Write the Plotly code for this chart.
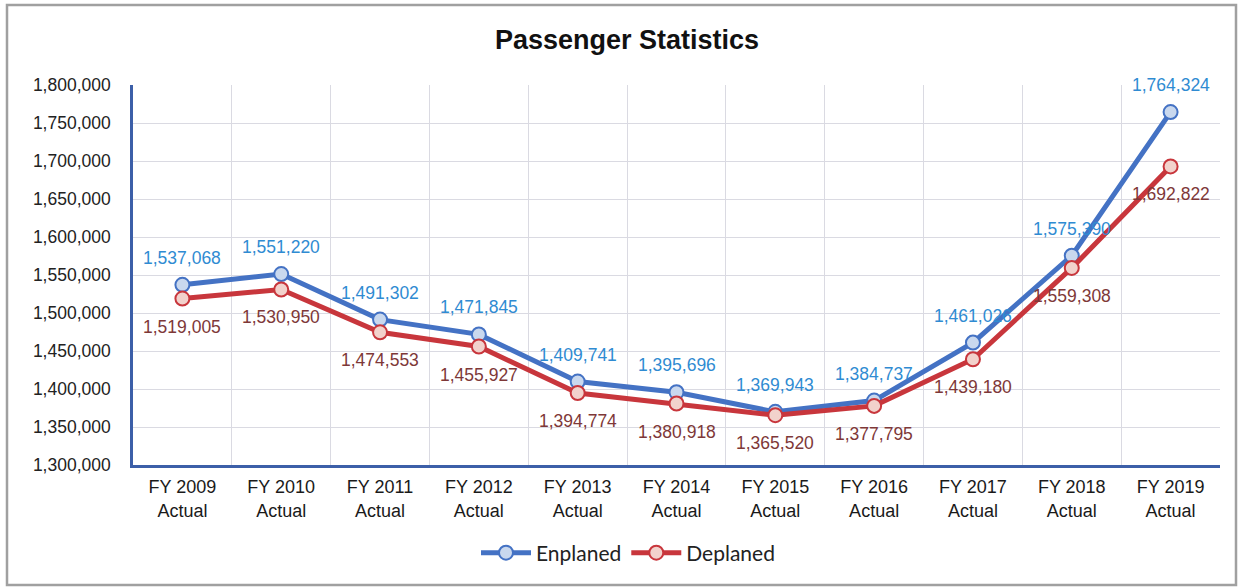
import plotly.graph_objects as go

# Fiscal years and passenger counts
years = ["FY 2009", "FY 2010", "FY 2011", "FY 2012", "FY 2013", "FY 2014",
         "FY 2015", "FY 2016", "FY 2017", "FY 2018", "FY 2019"]
status = "Actual"
enplaned = [1537068, 1551220, 1491302, 1471845, 1409741, 1395696,
            1369943, 1384737, 1461026, 1575390, 1764324]
deplaned = [1519005, 1530950, 1474553, 1455927, 1394774, 1380918,
            1365520, 1377795, 1439180, 1559308, 1692822]
y_ticks = list(range(1300000, 1800001, 50000))

categories = [f"{y}<br>{status}" for y in years]

W, H = 1244, 587
L, R, T, B = 133, 24, 85, 122
plot_w = W - L - R
plot_h = H - T - B

BLUE = "#4472C4"
RED = "#C8363C"
BLUE_TXT = "#2F8BD2"
RED_TXT = "#7E3838"
FONT = "Liberation Sans"

fig = go.Figure()
fig.add_trace(go.Scatter(
    x=categories, y=enplaned, name="Enplaned", mode="lines+markers",
    line=dict(color=BLUE, width=5),
    marker=dict(size=14, color="#C9D8EE", line=dict(color=BLUE, width=2)),
))
fig.add_trace(go.Scatter(
    x=categories, y=deplaned, name="Deplaned", mode="lines+markers",
    line=dict(color=RED, width=5),
    marker=dict(size=14, color="#F2D2CC", line=dict(color=RED, width=2)),
))

# Value labels: enplaned above points, deplaned below
annotations = []
for c, v in zip(categories, enplaned):
    annotations.append(dict(x=c, y=v, text=f"{v:,}", showarrow=False,
                            yshift=27, font=dict(color=BLUE_TXT, size=17.5,
                                                 family=FONT)))
for c, v in zip(categories, deplaned):
    annotations.append(dict(x=c, y=v, text=f"{v:,}", showarrow=False,
                            yshift=-28, font=dict(color=RED_TXT, size=17.5,
                                                  family=FONT)))

# Outer chart frame
frame = dict(type="rect", xref="paper", yref="paper",
             x0=(7 - L) / plot_w, x1=(1236 - L) / plot_w,
             y0=(T + plot_h - 585) / plot_h, y1=(T + plot_h - 5) / plot_h,
             line=dict(color="#A0A0A0", width=2.5), fillcolor="rgba(0,0,0,0)",
             layer="below")

fig.update_layout(
    width=W, height=H, autosize=False,
    margin=dict(l=L, r=R, t=T, b=B, autoexpand=False),
    paper_bgcolor="white", plot_bgcolor="white",
    title=dict(text="<b>Passenger Statistics</b>", x=627 / W, xanchor="center",
               y=1 - 40 / H, yanchor="middle",
               font=dict(family=FONT, size=27, color="#111111")),
    font=dict(family=FONT, size=17.5, color="#222222"),
    showlegend=True,
    legend=dict(orientation="h", x=(628 - L) / plot_w, xanchor="center",
                y=(T + plot_h - 553) / plot_h, yanchor="middle",
                font=dict(family="Lato", size=21, color="#222222"),
                itemwidth=50, tracegroupgap=0),
    annotations=annotations,
    shapes=[frame],
    xaxis=dict(
        type="category", tickson="boundaries",
        showgrid=True, gridcolor="#DADAE2", gridwidth=1,
        showline=True, linecolor="#3C5FA8", linewidth=2.5,
        ticks="", ticklabelstandoff=4, tickangle=0,
        tickfont=dict(size=18, color="#1A1A1A"),
        range=[-0.5, len(categories) - 0.5], fixedrange=True,
    ),
    yaxis=dict(
        range=[1300000, 1800000], tickvals=y_ticks,
        ticktext=[f"{v:,}" for v in y_ticks],
        showgrid=True, gridcolor="#DADAE2", gridwidth=1,
        showline=True, linecolor="#3C5FA8", linewidth=2.5,
        ticks="", ticklabelstandoff=16,
        tickfont=dict(size=17.5, color="#222222"),
        zeroline=False,
    ),
)

fig.write_html("out.html")
